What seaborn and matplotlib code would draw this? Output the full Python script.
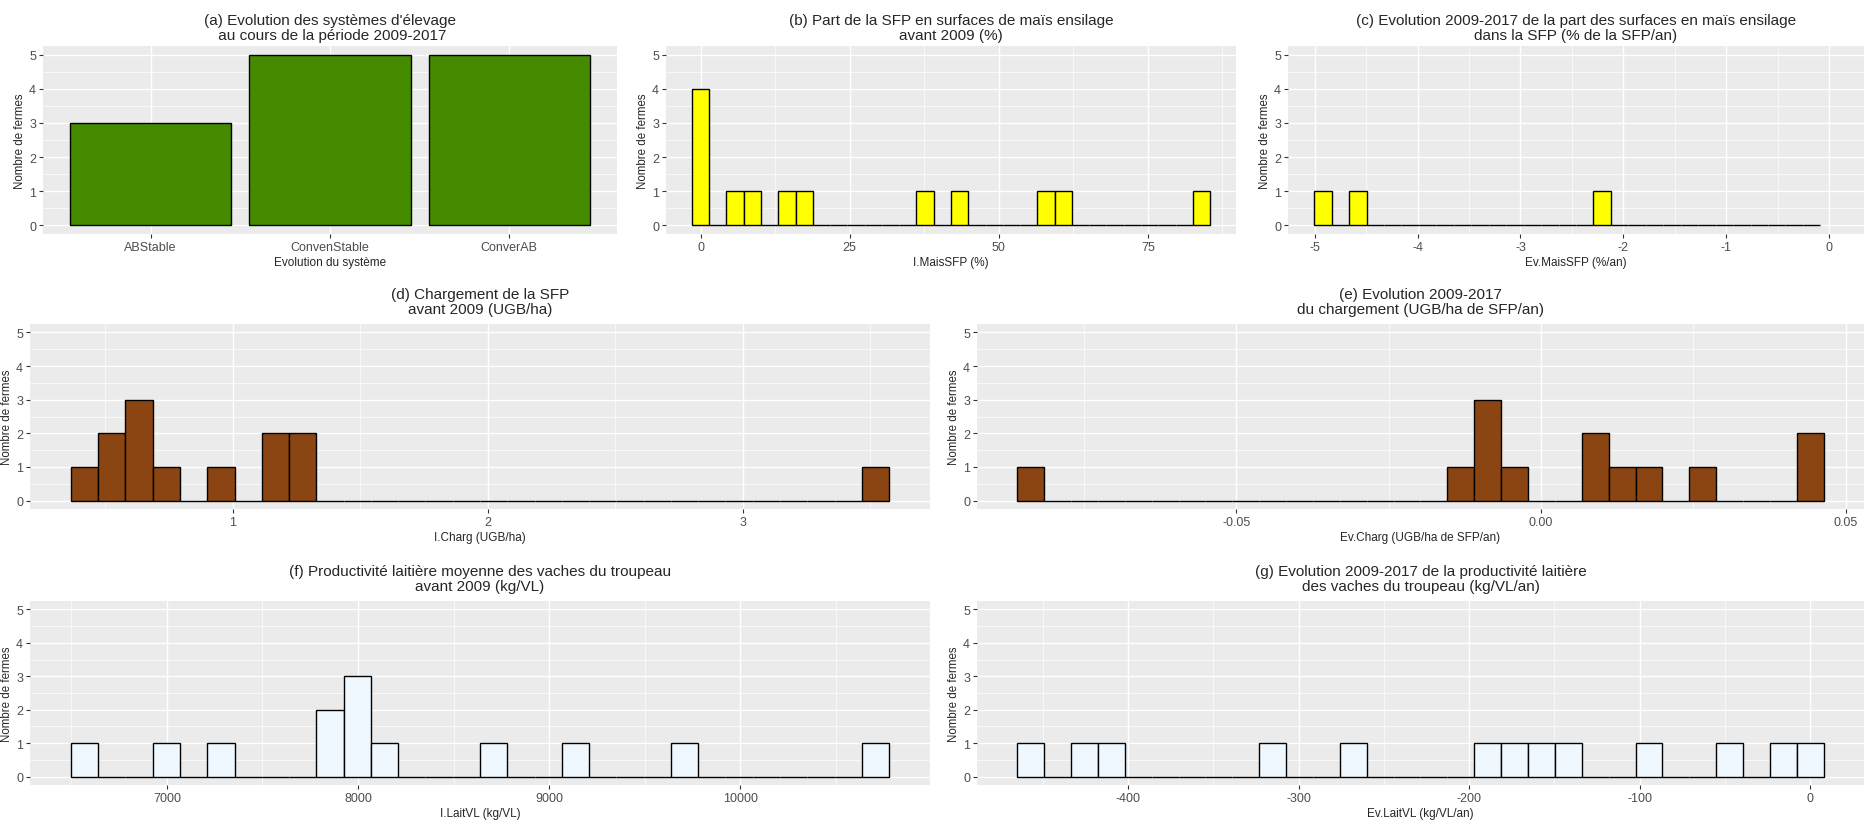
import numpy as np
import matplotlib
matplotlib.use("Agg")
import matplotlib.pyplot as plt
from matplotlib.ticker import AutoMinorLocator, FixedLocator, FormatStrFormatter
import seaborn as sns

# ---- Data (13 farms) ---- #
systeme = ["ABStable", "ConvenStable", "ConverAB"]
systeme_n = [3, 5, 5]

i_mais_sfp = [0, 0, 0, 0, 6, 9, 14, 17, 38, 43, 58, 61, 84]
ev_mais_sfp = [-4.92, -4.58, -2.21, 0, 0, 0, 0, 0, 0, 0, 0, 0, 0]
i_charg = [0.42, 0.52, 0.54, 0.62, 0.64, 0.65, 0.74, 0.95, 1.16, 1.18, 1.27, 1.29, 3.52]
ev_charg = [-0.0837, -0.0132, -0.0090, -0.0087, -0.0085, -0.0043, 0.0088, 0.0091,
            0.0134, 0.0178, 0.0266, 0.0440, 0.0442]
i_lait_vl = [6569, 6998, 7284, 7850, 7860, 7990, 8000, 8010, 8142, 8710, 9140, 9712, 10707]
ev_lait_vl = [-457, -425, -410, -315, -268, -189, -173, -157, -142, -94, -47, -16, 0]

GREEN = "#458B00"
YELLOW = "#FFFF00"
BROWN = "#8B4513"
ALICE = "#F0F8FF"

sns.set_theme(style="darkgrid", rc={
    "axes.facecolor": "#EBEBEB",
    "grid.color": "white",
    "axes.edgecolor": "none",
    "xtick.bottom": True,
    "ytick.left": True,
    "xtick.major.size": 3,
    "ytick.major.size": 3,
    "xtick.major.width": 0.8,
    "ytick.major.width": 0.8,
    "xtick.color": "#333333",
    "ytick.color": "#333333",
    "xtick.labelcolor": "#4D4D4D",
    "ytick.labelcolor": "#4D4D4D",
    "xtick.major.pad": 2,
    "ytick.major.pad": 2,
    "axes.unicode_minus": False,
})
plt.rcParams["font.family"] = ["Liberation Sans", "DejaVu Sans"]

fig = plt.figure(figsize=(18.74, 8.28), dpi=100)


def style_axes(ax, title, xlabel, tpad=5):
    ax.set_ylim(-0.25, 5.25)
    ax.yaxis.set_major_locator(FixedLocator([0, 1, 2, 3, 4, 5]))
    ax.yaxis.set_minor_locator(FixedLocator([0.5, 1.5, 2.5, 3.5, 4.5]))
    ax.grid(which="major", color="white", linewidth=1.0)
    ax.grid(which="minor", color="white", linewidth=0.5)
    ax.tick_params(which="minor", length=0)
    ax.tick_params(labelsize=9)
    ax.set_title(title, fontsize=11, pad=tpad, linespacing=1.1)
    ax.set_xlabel(xlabel, fontsize=8.5, labelpad=2)
    ax.set_ylabel("Nombre de fermes", fontsize=8.3, labelpad=2)
    ax.set_axisbelow(True)


def hist_panel(rect, values, color, ticks, fmt, title, xlabel, tpad=5):
    ax = fig.add_axes(rect)
    v = np.asarray(values, dtype=float)
    w = (v.max() - v.min()) / 29
    lo, hi = v.min() - w / 2, v.max() + w / 2
    sns.histplot(x=v, bins=30, binrange=(lo, hi), color=color, alpha=1,
                 edgecolor="black", linewidth=1.0, ax=ax)
    # ggplot drops bars outside the y limits
    for p in list(ax.patches):
        if p.get_height() > 5:
            p.remove()
    pad = 0.05 * (hi - lo)
    ax.set_xlim(lo - pad, hi + pad)
    ax.xaxis.set_major_locator(FixedLocator(ticks))
    ax.xaxis.set_minor_locator(AutoMinorLocator(2))
    ax.xaxis.set_major_formatter(FormatStrFormatter(fmt))
    style_axes(ax, title, xlabel, tpad)
    return ax


def box(x0, y0, x1, y1):
    W, H = 1874, 828
    return [x0 / W, 1 - y1 / H, (x1 - x0) / W, (y1 - y0) / H]


# (a) bar chart of system evolution
ax = fig.add_axes(box(43, 47, 617, 235))
sns.barplot(x=systeme, y=systeme_n, color=GREEN, edgecolor="black",
            linewidth=1.0, width=0.9, saturation=1, ax=ax)
ax.set_xlim(-0.6, 2.6)
style_axes(ax, "(a) Evolution des systèmes d'élevage\n au cours de la période 2009-2017",
           "Evolution du système")
ax.xaxis.grid(True, which="major", color="white", linewidth=1.0)

# (b) – (g) histograms
hist_panel(box(666, 47, 1236, 235), i_mais_sfp, YELLOW, [0, 25, 50, 75], "%g",
           "(b) Part de la SFP en surfaces de maïs ensilage\navant 2009 (%)",
           "I.MaisSFP (%)")
hist_panel(box(1288, 47, 1864, 235), ev_mais_sfp, YELLOW, [-5, -4, -3, -2, -1, 0], "%g",
           "(c) Evolution 2009-2017 de la part des surfaces en maïs ensilage\ndans la SFP (% de la SFP/an)",
           "Ev.MaisSFP (%/an)")
hist_panel(box(30, 325, 930, 510), i_charg, BROWN, [1, 2, 3], "%g",
           "(d) Chargement de la SFP\navant 2009 (UGB/ha)",
           "I.Charg (UGB/ha)", tpad=8)
hist_panel(box(977, 325, 1864, 510), ev_charg, BROWN, [-0.05, 0.0, 0.05], "%.2f",
           "(e) Evolution 2009-2017\ndu chargement (UGB/ha de SFP/an)",
           "Ev.Charg (UGB/ha de SFP/an)", tpad=8)
hist_panel(box(30, 602, 930, 786), i_lait_vl, ALICE, [7000, 8000, 9000, 10000], "%g",
           "(f) Productivité laitière moyenne des vaches du troupeau\navant 2009 (kg/VL)",
           "I.LaitVL (kg/VL)", tpad=8)
hist_panel(box(977, 602, 1864, 786), ev_lait_vl, ALICE, [-400, -300, -200, -100, 0], "%g",
           "(g) Evolution 2009-2017 de la productivité laitière\ndes vaches du troupeau (kg/VL/an)",
           "Ev.LaitVL (kg/VL/an)", tpad=8)

fig.savefig("out.png", dpi=100)
